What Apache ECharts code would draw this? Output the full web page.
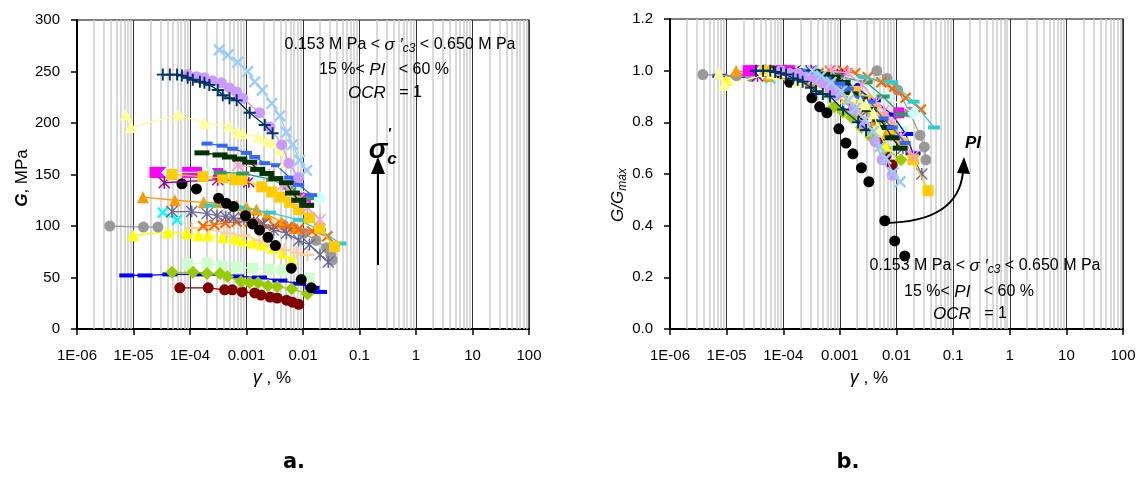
<!DOCTYPE html>
<html><head><meta charset="utf-8">
<script src="https://cdn.jsdelivr.net/npm/echarts@6/dist/echarts.min.js"></script>
<style>html,body{margin:0;padding:0;background:#fff}#c{width:1145px;height:479px}</style>
</head><body><div id="c"></div>
<script>
// ---------- tick labels ----------
const xTickLabels = ['1E-06','1E-05','1E-04','0.001','0.01','0.1','1','10','100'];

// ---------- data (gamma in %, G in MPa, R = G/Gmax) ----------
const grayGamma = [3.8e-6, 1.5e-5, 2.7e-5, 4.5e-3, 6.8e-3, 1.05e-2, 1.7e-2, 2.6e-2, 3.1e-2, 3.3e-2];
const grayG = [100, 99, 99, 101, 98, 93, 86, 79, 72, 67];
const grayR = [0.985, 0.98, 0.977, 1.0, 0.97, 0.925, 0.84, 0.75, 0.705, 0.655];

const pyGamma = [7.3e-6, 9.0e-6, 6.3e-5, 1.8e-4, 4.9e-4, 6.9e-4, 8.6e-4, 1.6e-3, 2.3e-3, 2.9e-3, 3.9e-3, 4.7e-3];
const pyG = [208, 196, 208, 200, 197, 191, 190, 187, 183, 181, 174, 162];
const pyR = [0.99, 0.945, 0.99, 0.96, 0.945, 0.92, 0.91, 0.90, 0.88, 0.87, 0.835, 0.78];

const navyGamma = [3.3e-5, 4.4e-5, 5.9e-5, 7.2e-5, 9.1e-5, 1.12e-4, 1.5e-4, 1.8e-4, 2.2e-4, 3.1e-4, 3.8e-4, 5.0e-4, 6.7e-4, 1.14e-3, 2.1e-3, 2.9e-3];
const navyG = [247, 247, 247, 246, 244, 242, 240, 239, 237, 232, 227, 224, 222, 210, 198, 190];
const navyR = [1.0, 1.0, 1.0, 0.995, 0.99, 0.985, 0.97, 0.965, 0.957, 0.934, 0.92, 0.91, 0.9, 0.85, 0.80, 0.77];

const lilacGamma = [9.1e-5, 1.3e-4, 1.8e-4, 2.5e-4, 3.6e-4, 5.0e-4, 6.7e-4, 8.6e-4, 1.7e-3, 2.6e-3, 4.2e-3, 5.6e-3, 8.4e-3];
const lilacG = [247, 245, 244, 241, 239, 234, 230, 224, 210, 196, 179, 161, 147];
const lilacR = [1.0, 0.99, 0.99, 0.975, 0.97, 0.95, 0.93, 0.905, 0.85, 0.79, 0.725, 0.655, 0.595];

const lbxGamma = [3.3e-4, 4.7e-4, 7.0e-4, 1.05e-3, 1.4e-3, 1.9e-3, 2.8e-3, 3.9e-3, 5.1e-3, 6.5e-3, 8.7e-3, 1.16e-2];
const lbxG = [271, 266, 259, 250, 240, 232, 219, 207, 191, 179, 164, 154];
const lbxR = [1.0, 0.98, 0.955, 0.92, 0.885, 0.855, 0.81, 0.765, 0.705, 0.66, 0.605, 0.57];

const bdGamma = [2.0e-4, 3.7e-4, 5.7e-4, 1.0e-3, 1.4e-3, 2.1e-3, 3.4e-3, 5.8e-3, 8.4e-3, 1.42e-2];
const bdG = [180, 178, 175, 171, 167, 161, 159, 147, 140, 130];
const bdR = [1.0, 0.99, 0.97, 0.95, 0.93, 0.895, 0.88, 0.815, 0.78, 0.72];

const dgGamma = [1.63e-4, 3.4e-4, 5.0e-4, 7.6e-4, 1.14e-3, 1.58e-3, 2.3e-3, 3.3e-3, 5.1e-3, 6.5e-3, 8.4e-3, 1.16e-2];
const dgG = [171, 169, 167, 165, 162, 155, 151, 146, 142, 132, 125, 120];
const dgR = [1.0, 0.995, 0.985, 0.975, 0.955, 0.91, 0.89, 0.85, 0.81, 0.78, 0.74, 0.70];

const mgGamma = [2.4e-5, 3.3e-5, 9.1e-5, 1.3e-4, 3.1e-4, 1.1e-2];
const mgG = [152, 152, 152, 152, 151, 127];
const mgR = [1.0, 1.0, 1.0, 1.0, 0.995, 0.837];

const goldGamma = [4.8e-5, 1.7e-4, 3.8e-4, 6.2e-4, 8.3e-4, 1.86e-3, 2.8e-3, 3.9e-3, 5.8e-3, 8.4e-3, 1.3e-2, 1.96e-2, 3.6e-2];
const goldG = [150, 148, 147, 145, 145, 138, 133, 128, 123, 116, 108, 98, 80];
const goldR = [1.0, 0.985, 0.98, 0.965, 0.965, 0.92, 0.885, 0.855, 0.82, 0.775, 0.72, 0.655, 0.535];

const otGamma = [1.47e-5, 5.4e-5, 1.75e-4, 3.0e-4, 6.7e-4, 1.0e-3, 1.5e-3, 2.3e-3, 4.2e-3, 7.0e-3];
const otG = [128, 125, 123, 123, 120, 118, 116, 111, 104, 98];
const otR = [1.0, 0.98, 0.96, 0.96, 0.94, 0.92, 0.905, 0.87, 0.81, 0.765];

const blkGamma = [7.2e-5, 1.3e-4, 3.2e-4, 4.4e-4, 5.9e-4, 9.6e-4, 1.28e-3, 1.7e-3, 2.4e-3, 3.25e-3, 6.2e-3, 9.3e-3, 1.4e-2];
const blkG = [141, 136, 127, 122, 119, 110, 102, 96, 89, 81, 59, 48, 40];
const blkR = [0.99, 0.955, 0.895, 0.86, 0.837, 0.775, 0.72, 0.678, 0.624, 0.57, 0.419, 0.341, 0.283];

const cxGamma = [3.3e-5, 5.9e-5];
const cxG = [113, 106];
const cxR = [0.99, 0.97];

const saGamma = [4.8e-5, 1.07e-4, 2.0e-4, 3.0e-4, 4.3e-4, 5.9e-4, 9.0e-4, 1.34e-3, 2.0e-3, 3.0e-3, 5.1e-3, 8.4e-3, 1.3e-2, 2.0e-2, 2.8e-2];
const saG = [114, 114, 112, 110, 109, 108, 107, 105, 102, 96, 93, 86, 82, 72, 65];
const saR = [1.0, 1.0, 0.985, 0.965, 0.955, 0.95, 0.94, 0.92, 0.895, 0.845, 0.815, 0.76, 0.70, 0.66, 0.60];

const oxGamma = [1.7e-4, 2.7e-4, 4.2e-4, 6.7e-4, 1.14e-3, 1.86e-3, 3.1e-3, 5.4e-3, 8.4e-3, 1.45e-2, 2.7e-2];
const oxG = [100, 101, 103, 104, 104, 102, 100, 99, 97, 95, 90];
const oxR = [0.96, 0.97, 0.99, 1.0, 1.0, 0.99, 0.975, 0.955, 0.93, 0.895, 0.85];

const ppGamma = [1.07e-4, 2.0e-4, 4.5e-4, 9.0e-4, 1.7e-3, 2.8e-3, 4.7e-3, 7.7e-3, 1.2e-2];
const ppG = [98, 97, 93, 91, 86, 81, 77, 74, 72];
const ppR = [1.0, 0.99, 0.95, 0.93, 0.88, 0.83, 0.785, 0.755, 0.735];

const ytGamma = [9.8e-6, 4.1e-5, 8.8e-5, 1.4e-4, 2.1e-4, 3.8e-4, 6.2e-4, 8.4e-4, 1.28e-3, 1.9e-3, 2.9e-3, 4.4e-3, 6.3e-3];
const ytG = [91, 94, 93, 91, 91, 89, 88, 86, 84, 82, 79, 74, 67];
const ytR = [0.965, 1.0, 0.99, 0.97, 0.97, 0.945, 0.935, 0.915, 0.895, 0.87, 0.84, 0.785, 0.71];

const mtGamma = [9.1e-5, 2.0e-4, 3.6e-4, 6.7e-4, 1.28e-3, 2.6e-3, 4.4e-3, 1.3e-2];
const mtG = [63, 64, 61, 60, 59, 58, 57, 49];
const mtR = [0.985, 1.0, 0.955, 0.94, 0.92, 0.905, 0.89, 0.765];

const blGamma = [7.6e-6, 1.6e-5, 4.4e-5, 1.5e-4, 6.7e-4, 1.7e-3, 3.9e-3, 8.4e-3, 1.45e-2, 1.96e-2];
const blG = [52, 52, 53, 53, 51, 50, 47, 44, 40, 36];
const blR = [0.98, 0.98, 1.0, 1.0, 0.96, 0.945, 0.885, 0.83, 0.755, 0.68];

const ygGamma = [4.8e-5, 1.13e-4, 2.0e-4, 3.4e-4, 4.6e-4, 8.0e-4, 1.14e-3, 1.6e-3, 2.4e-3, 3.5e-3, 6.3e-3, 1.2e-2];
const ygG = [55, 55, 54, 54, 51, 46, 45, 45, 42, 41, 39, 34];
const ygR = [1.0, 1.0, 0.985, 0.98, 0.93, 0.86, 0.84, 0.82, 0.78, 0.745, 0.70, 0.655];

const mrGamma = [6.6e-5, 2.1e-4, 4.1e-4, 5.6e-4, 8.4e-4, 1.4e-3, 1.8e-3, 2.6e-3, 3.5e-3, 5.1e-3, 6.5e-3, 8.4e-3];
const mrG = [40, 40, 38, 38, 36, 35, 33, 31, 30, 28, 26, 24];
const mrR = [1.0, 1.0, 0.96, 0.95, 0.92, 0.89, 0.86, 0.82, 0.78, 0.72, 0.67, 0.635];

const lcGamma = [4.0e-5, 2.2e-4, 1.7e-3, 7.0e-3, 2.0e-2];
const lcG = [152, 152, 147, 137, 127];
const lcR = [1.0, 1.0, 0.965, 0.9, 0.835];

const pkGamma = [7.0e-4, 1.4e-3, 2.5e-3, 4.4e-3, 6.0e-3, 8.4e-3, 1.2e-2, 2.0e-2];
const pkG = [159, 157, 150, 140, 134, 126, 118, 106];
const pkR = [1.0, 0.99, 0.945, 0.88, 0.845, 0.795, 0.745, 0.67];

const sgGamma = [3.4e-4, 8.6e-4, 2.9e-3, 5.8e-3, 1.2e-2];
const sgG = [152, 151, 145, 137, 127];
const sgR = [1.0, 0.98, 0.955, 0.90, 0.83];

const puGamma = [3.5e-5, 3.1e-4, 1.1e-3];
const puG = [142, 145, 143];
const puR = [0.98, 1.0, 0.985];

const tqGamma = [2.2e-4, 7.5e-4, 2.6e-3, 8.4e-3, 2.0e-2, 4.6e-2];
const tqG = [120, 118, 113, 106, 96, 83];
const tqR = [1.0, 0.99, 0.975, 0.955, 0.88, 0.78];

// ---------- styles ----------
const PLUS = 'path://M-10,-1.6L10,-1.6L10,1.6L-10,1.6Z M-1.6,-10L1.6,-10L1.6,10L-1.6,10Z';
const ASTER = 'path://M-8.4,-10L10,8.4L8.4,10L-10,-8.4Z M8.4,-10L10,-8.4L-8.4,10L-10,8.4Z M-1.3,-10L1.3,-10L1.3,10L-1.3,10Z';
const specs = [
  {g: mtGamma, G: mtG, R: mtR, color: '#ccffcc', symbol: 'rect', size: 11},
  {g: mrGamma, G: mrG, R: mrR, color: '#800000', symbol: 'circle', size: 11},
  {g: blGamma, G: blG, R: blR, color: '#0000ff', symbol: 'rect', size: [15, 4]},
  {g: ygGamma, G: ygG, R: ygR, color: '#99cc00', symbol: 'diamond', size: 13},
  {g: ytGamma, G: ytG, R: ytR, color: '#ffff00', symbol: 'triangle', size: 12},
  {g: ppGamma, G: ppG, R: ppR, color: '#ffcc99', symbol: PLUS, size: 13},
  {g: grayGamma, G: grayG, R: grayR, color: '#999999', symbol: 'circle', size: 11, gapAfter: 2},
  {g: cxGamma, G: cxG, R: cxR, color: '#00ffff', symbol: PLUS, size: 14, rot: 45},
  {g: otGamma, G: otG, R: otR, color: '#ff9900', symbol: 'triangle', size: 12},
  {g: oxGamma, G: oxG, R: oxR, color: '#ff6600', symbol: PLUS, size: 14, rot: 45},
  {g: saGamma, G: saG, R: saR, color: '#666699', symbol: ASTER, size: 12},
  {g: tqGamma, G: tqG, R: tqR, color: '#33cccc', symbol: 'rect', size: [12, 4]},
  {g: blkGamma, G: blkG, R: blkR, color: '#000000', symbol: 'circle', size: 11, noLine: true},
  {g: mgGamma, G: mgG, R: mgR, color: '#ff00ff', symbol: 'rect', size: 11, gapAfter: 4},
  {g: puGamma, G: puG, R: puR, color: '#990099', symbol: ASTER, size: 12},
  {g: lcGamma, G: lcG, R: lcR, color: '#ccffff', symbol: 'diamond', size: 13},
  {g: goldGamma, G: goldG, R: goldR, color: '#ffcc00', symbol: 'rect', size: 11},
  {g: sgGamma, G: sgG, R: sgR, color: '#339966', symbol: 'rect', size: [13, 4]},
  {g: pkGamma, G: pkG, R: pkR, color: '#ff99cc', symbol: ASTER, size: 12},
  {g: dgGamma, G: dgG, R: dgR, color: '#003300', symbol: 'rect', size: [15, 5]},
  {g: bdGamma, G: bdG, R: bdR, color: '#3366ff', symbol: 'rect', size: [11, 4]},
  {g: pyGamma, G: pyG, R: pyR, color: '#ffff99', symbol: 'triangle', size: 12},
  {g: lilacGamma, G: lilacG, R: lilacR, color: '#cc99ff', symbol: 'circle', size: 11},
  {g: navyGamma, G: navyG, R: navyR, color: '#003366', symbol: PLUS, size: 12},
  {g: lbxGamma, G: lbxG, R: lbxR, color: '#99ccff', symbol: PLUS, size: 15, rot: 45}
];

const FONT = '"Liberation Sans", Arial, sans-serif';

// minor vertical grid lines at 2..9 x 10^e
const minorLines = [];
for (let e = -6; e <= 1; e++) for (let k = 2; k <= 9; k++) minorLines.push(Number((k * Math.pow(10, e)).toPrecision(3)));

function xAxisCfg(gi) {
  return {
    type: 'log', logBase: 10, min: 1e-6, max: 100, splitNumber: 8, gridIndex: gi,
    axisLine: {show: true, onZero: false, lineStyle: {color: '#000', width: 2}},
    axisTick: {show: true, length: 6, lineStyle: {color: '#000', width: 1.5}},
    axisLabel: {color: '#000', fontSize: 15, fontFamily: FONT, margin: 19,
      formatter: v => xTickLabels[Math.round(Math.log10(v)) + 6]},
    splitLine: {show: true, lineStyle: {color: '#333', width: 1}},
    minorTick: {show: false}, minorSplitLine: {show: false}
  };
}
function yAxisCfg(gi, max, interval, fmt) {
  return {
    type: 'value', min: 0, max: max, interval: interval, gridIndex: gi,
    axisLine: {show: true, onZero: false, lineStyle: {color: '#000', width: 2}},
    axisTick: {show: true, length: 6, lineStyle: {color: '#000', width: 1.5}},
    axisLabel: {color: '#000', fontSize: 15, fontFamily: FONT, margin: 17, formatter: fmt},
    splitLine: {show: false}
  };
}

const series = [];
[[0, 300], [1, 1.2]].forEach(([gi, top]) => {
  series.push({
    type: 'lines', coordinateSystem: 'cartesian2d', xAxisIndex: gi, yAxisIndex: gi, z: 1, silent: true,
    polyline: false, symbol: ['none', 'none'], animation: false,
    lineStyle: {color: '#cccccc', width: 1.5, opacity: 1, curveness: 0},
    data: minorLines.map(v => ({coords: [[v, 0], [v, top]]}))
  });
});
specs.forEach((s, idx) => {
  [0, 1].forEach(gi => {
    const vals = gi === 0 ? s.G : s.R;
    const data = [];
    s.g.forEach((x, i) => {
      data.push([x, vals[i]]);
      if (s.gapAfter === i) data.push([x, '-']);
    });
    series.push({
      type: 'line', xAxisIndex: gi, yAxisIndex: gi, z: 3 + idx,
      data: data, connectNulls: false,
      symbol: s.symbol, symbolSize: s.size, symbolRotate: s.rot || 0, showSymbol: true,
      itemStyle: {color: s.color, opacity: 1},
      lineStyle: {color: s.color, width: s.noLine ? 0 : 1.3, opacity: s.noLine ? 0 : 1},
      emphasis: {disabled: true}
    });
  });
});

const txt = (x, y, text, rich, opts) => Object.assign({
  type: 'text', x: x, y: y, z: 100,
  style: {text: text, rich: rich, fill: '#000', font: '15px ' + FONT, textAlign: 'center', textVerticalAlign: 'middle'}
}, opts || {});

const annoRich = {
  n: {fontSize: 16, fontFamily: FONT, lineHeight: 20, verticalAlign: 'middle'},
  i: {fontSize: 17, fontFamily: FONT, fontStyle: 'italic', lineHeight: 20, verticalAlign: 'middle'},
  s: {fontSize: 12, fontFamily: FONT, fontStyle: 'italic', lineHeight: 20, verticalAlign: 'bottom'}
};
function annotation(cx, y1, y2, y3) {
  return [
    txt(cx, y1, '{n|0.153 M Pa < }{i|σ ′}{s|c3}{n| < 0.650 M Pa}', annoRich),
    txt(cx - 16, y2, '{n|15 %< }{i|PI}{n|   < 60 %}', annoRich),
    txt(cx - 15, y3, '{i|OCR}{n|   = 1}', annoRich)
  ];
}

const graphic = [].concat(
  annotation(400, 45, 70, 93),
  annotation(985, 266, 292, 314),
  [
    // axis names
    txt(22, 178, '{g|G}{n|, MPa}', {g: {fontSize: 17, fontFamily: FONT, fontStyle: 'italic', fontWeight: 'bold'}, n: {fontSize: 17, fontFamily: FONT}}, {rotation: Math.PI / 2}),
    txt(618, 195, '{g|G/G}{s|máx}', {g: {fontSize: 17, fontFamily: FONT, fontStyle: 'italic', lineHeight: 22, verticalAlign: 'middle'}, s: {fontSize: 12, fontFamily: FONT, fontStyle: 'italic', lineHeight: 22, verticalAlign: 'bottom'}}, {rotation: Math.PI / 2}),
    txt(272, 378, '{g|γ}{n| , %}', {g: {fontSize: 18, fontFamily: FONT, fontStyle: 'italic'}, n: {fontSize: 17, fontFamily: FONT}}),
    txt(869, 378, '{g|γ}{n| , %}', {g: {fontSize: 18, fontFamily: FONT, fontStyle: 'italic'}, n: {fontSize: 17, fontFamily: FONT}}),
    // panel letters
    txt(294, 463, 'a.', null, {style: {text: 'a.', fill: '#000', font: 'bold 21px "DejaVu Sans", sans-serif', textAlign: 'center', textVerticalAlign: 'middle'}}),
    txt(848, 463, 'b.', null, {style: {text: 'b.', fill: '#000', font: 'bold 21px "DejaVu Sans", sans-serif', textAlign: 'center', textVerticalAlign: 'middle'}}),
    // sigma'c label and arrow (left)
    {type: 'text', x: 378, y: 150, z: 100, style: {text: 'σ', fill: '#000', font: 'italic bold 28px ' + FONT, textAlign: 'center', textVerticalAlign: 'middle'}},
    {type: 'text', x: 390, y: 134, z: 100, style: {text: '′', fill: '#000', font: 'bold 14px ' + FONT, textAlign: 'center', textVerticalAlign: 'middle'}},
    {type: 'text', x: 392, y: 159, z: 100, style: {text: 'c', fill: '#000', font: 'italic bold 17px ' + FONT, textAlign: 'center', textVerticalAlign: 'middle'}},
    {type: 'line', z: 100, shape: {x1: 378, y1: 265, x2: 378, y2: 172}, style: {stroke: '#000', lineWidth: 2}},
    {type: 'polygon', z: 100, shape: {points: [[371, 174], [385, 174], [378, 157]]}, style: {fill: '#000'}},
    // PI label and curved arrow (right)
    {type: 'text', x: 973, y: 143, z: 100, style: {text: 'PI', fill: '#000', font: 'italic bold 17px ' + FONT, textAlign: 'center', textVerticalAlign: 'middle'}},
    {type: 'bezierCurve', z: 100, shape: {x1: 885, y1: 223, cpx1: 958, cpy1: 222, x2: 963, y2: 172}, style: {stroke: '#000', lineWidth: 2, fill: null}},
    {type: 'polygon', z: 100, shape: {points: [[957, 173], [970, 174], [964, 157]]}, style: {fill: '#000'}}
  ]
);

const chart = echarts.init(document.getElementById('c'), null, {renderer: 'canvas'});
chart.setOption({
  animation: false,
  backgroundColor: '#fff',
  grid: [
    {left: 77, top: 20, width: 452, height: 309, show: true, borderColor: '#000', borderWidth: 1.2, containLabel: false},
    {left: 670, top: 19, width: 453, height: 310, show: true, borderColor: '#000', borderWidth: 1.2, containLabel: false}
  ],
  xAxis: [xAxisCfg(0), xAxisCfg(1)],
  yAxis: [yAxisCfg(0, 300, 50, v => String(v)), yAxisCfg(1, 1.2, 0.2, v => v.toFixed(1))],
  series: series,
  graphic: graphic
});
</script></body></html>
